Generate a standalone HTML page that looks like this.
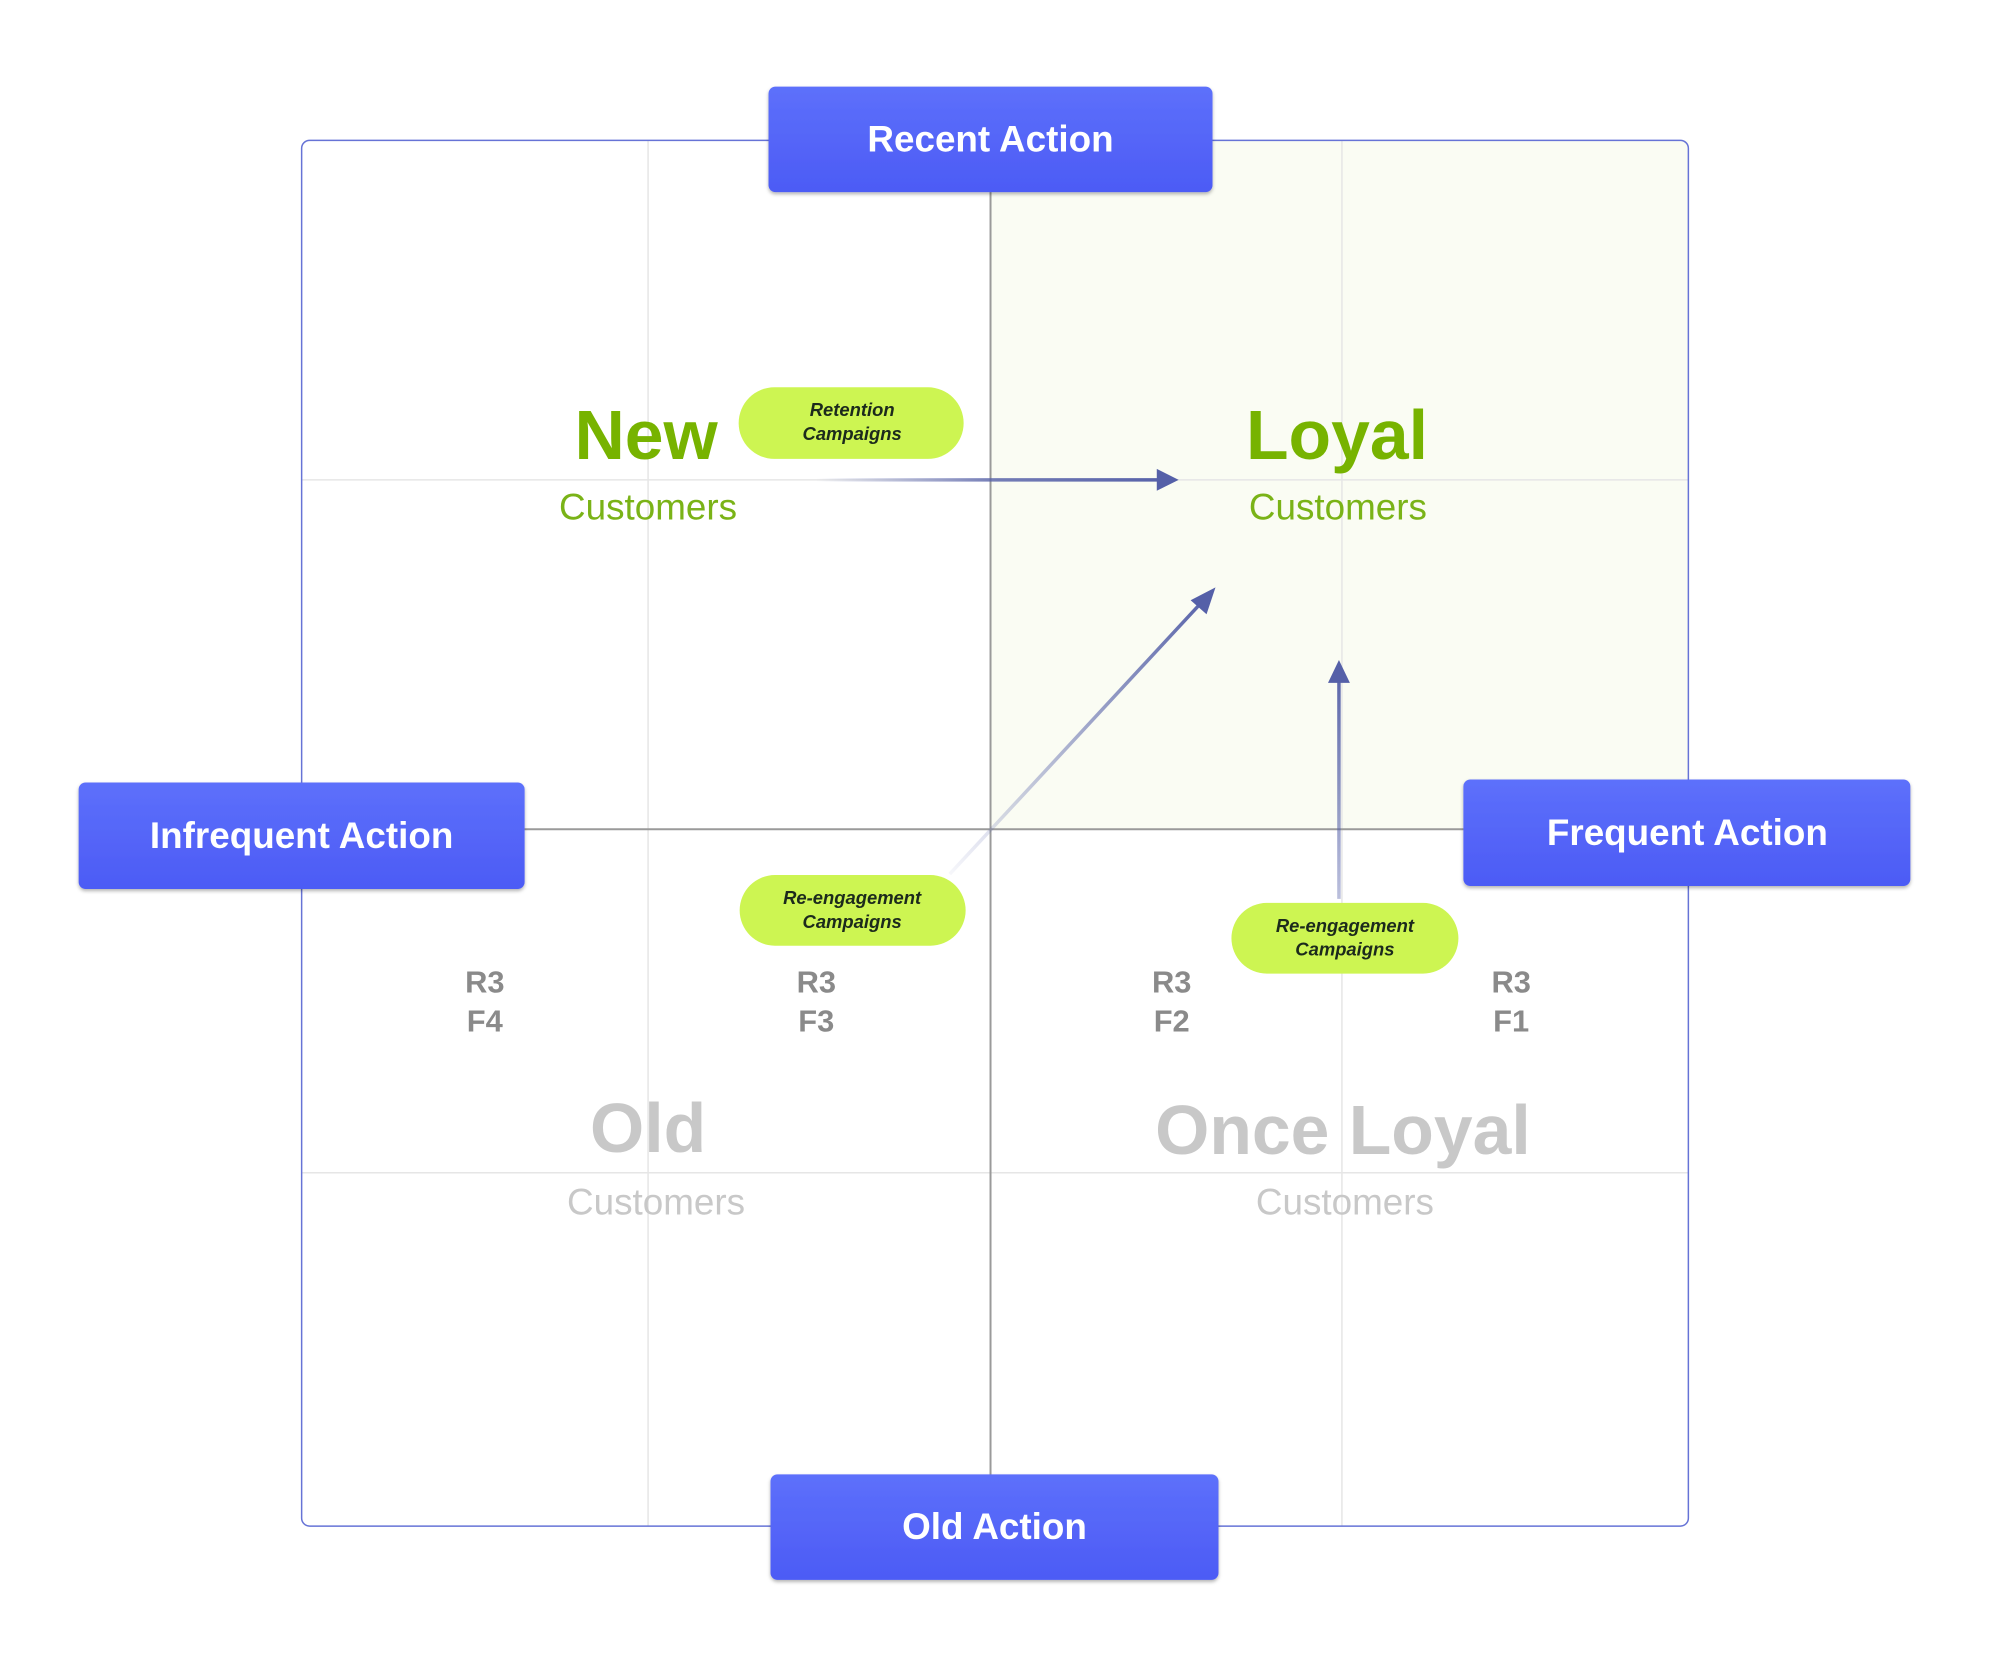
<!DOCTYPE html>
<html><head><meta charset="utf-8"><style>
html,body{margin:0;padding:0;background:#fff;}
svg{display:block;}
text{font-family:"Liberation Sans",sans-serif;}
</style></head><body>
<svg width="2000" height="1667" viewBox="0 0 2000 1667" xmlns="http://www.w3.org/2000/svg">
<defs>
<linearGradient id="bg" x1="0" y1="0" x2="0" y2="1"><stop offset="0" stop-color="#5d70fb"/><stop offset="1" stop-color="#4c5bf5"/></linearGradient>
<linearGradient id="a1" x1="820" y1="0" x2="1182" y2="0" gradientUnits="userSpaceOnUse"><stop offset="0" stop-color="#5560a8" stop-opacity="0"/><stop offset="0.5" stop-color="#5560a8" stop-opacity="0.8"/><stop offset="1" stop-color="#5560a8"/></linearGradient>
<linearGradient id="a2" x1="954" y1="878" x2="1218" y2="593" gradientUnits="userSpaceOnUse"><stop offset="0" stop-color="#5560a8" stop-opacity="0.05"/><stop offset="1" stop-color="#5560a8"/></linearGradient>
<linearGradient id="a3" x1="0" y1="903" x2="0" y2="663" gradientUnits="userSpaceOnUse"><stop offset="0" stop-color="#5560a8" stop-opacity="0.4"/><stop offset="1" stop-color="#5560a8"/></linearGradient>
<filter id="sh" x="-10%" y="-20%" width="120%" height="150%"><feDropShadow dx="0" dy="2" stdDeviation="2" flood-color="#000" flood-opacity="0.3"/></filter>
</defs>
<g transform="scale(0.9955)">
<rect x="995" y="141" width="701" height="692" fill="#fafcf3"/>
<g stroke="#e6e6e6" stroke-width="1.5">
<line x1="651" y1="141" x2="651" y2="1533"/><line x1="1348" y1="141" x2="1348" y2="1533"/>
<line x1="303" y1="482" x2="1696" y2="482"/><line x1="303" y1="1178" x2="1696" y2="1178"/>
</g>
<g stroke="#9a9a9a" stroke-width="2"><line x1="995" y1="141" x2="995" y2="1533"/><line x1="303" y1="833" x2="1696" y2="833"/></g>
<rect x="303" y="141" width="1393" height="1392" rx="8" fill="none" stroke="#6673d6" stroke-width="1.5"/>

<line x1="820" y1="482" x2="1164" y2="482" stroke="url(#a1)" stroke-width="3.5"/>
<polygon points="1184,482 1162,471 1162,493" fill="#5560a8"/>
<line x1="954" y1="878" x2="1208" y2="604" stroke="url(#a2)" stroke-width="3.5"/>
<polygon points="1221,590 1196,603 1212,617" fill="#5560a8"/>
<line x1="1345" y1="903" x2="1345" y2="680" stroke="url(#a3)" stroke-width="3.5"/>
<polygon points="1345,663 1334,686 1356,686" fill="#5560a8"/>

<g filter="url(#sh)">
<rect x="772" y="87" width="446" height="106" rx="7" fill="url(#bg)"/>
<rect x="774" y="1481" width="450" height="106" rx="7" fill="url(#bg)"/>
<rect x="79" y="786" width="448" height="107" rx="7" fill="url(#bg)"/>
<rect x="1470" y="783" width="449" height="107" rx="7" fill="url(#bg)"/>
</g>
<g fill="#fff" font-weight="bold" font-size="37" text-anchor="middle">
<text x="995" y="152">Recent Action</text>
<text x="999" y="1546">Old Action</text>
<text x="303" y="852">Infrequent Action</text>
<text x="1695" y="849">Frequent Action</text>
</g>

<g text-anchor="middle">
<text x="649" y="461" font-size="70" font-weight="bold" fill="#77b300">New</text>
<text x="1343" y="461" font-size="70" font-weight="bold" fill="#77b300">Loyal</text>
<text x="651" y="522" font-size="37" fill="#7ab317">Customers</text>
<text x="1344" y="522" font-size="37" fill="#7ab317">Customers</text>
<text x="651" y="1157" font-size="70" font-weight="bold" fill="#c8c8c8">Old</text>
<text x="1349" y="1159" font-size="70" font-weight="bold" fill="#c8c8c8">Once Loyal</text>
<text x="659" y="1220" font-size="37" fill="#c8c8c8">Customers</text>
<text x="1351" y="1220" font-size="37" fill="#c8c8c8">Customers</text>
</g>
<g text-anchor="middle" font-size="31" font-weight="bold" fill="#8a8a8a">
<text x="487" y="997">R3</text><text x="487" y="1036">F4</text>
<text x="820" y="997">R3</text><text x="820" y="1036">F3</text>
<text x="1177" y="997">R3</text><text x="1177" y="1036">F2</text>
<text x="1518" y="997">R3</text><text x="1518" y="1036">F1</text>
</g>

<g fill="#cdf552">
<rect x="742" y="389" width="226" height="72" rx="36"/>
<rect x="743" y="879" width="227" height="71" rx="35.5"/>
<rect x="1237" y="907" width="228" height="71" rx="35.5"/>
</g>
<g text-anchor="middle" font-size="18.5" font-weight="bold" font-style="italic" fill="#1c2a1c">
<text x="856" y="418">Retention</text><text x="856" y="442">Campaigns</text>
<text x="856" y="908">Re-engagement</text><text x="856" y="932">Campaigns</text>
<text x="1351" y="936">Re-engagement</text><text x="1351" y="960">Campaigns</text>
</g>
</g>
</svg>
</body></html>
